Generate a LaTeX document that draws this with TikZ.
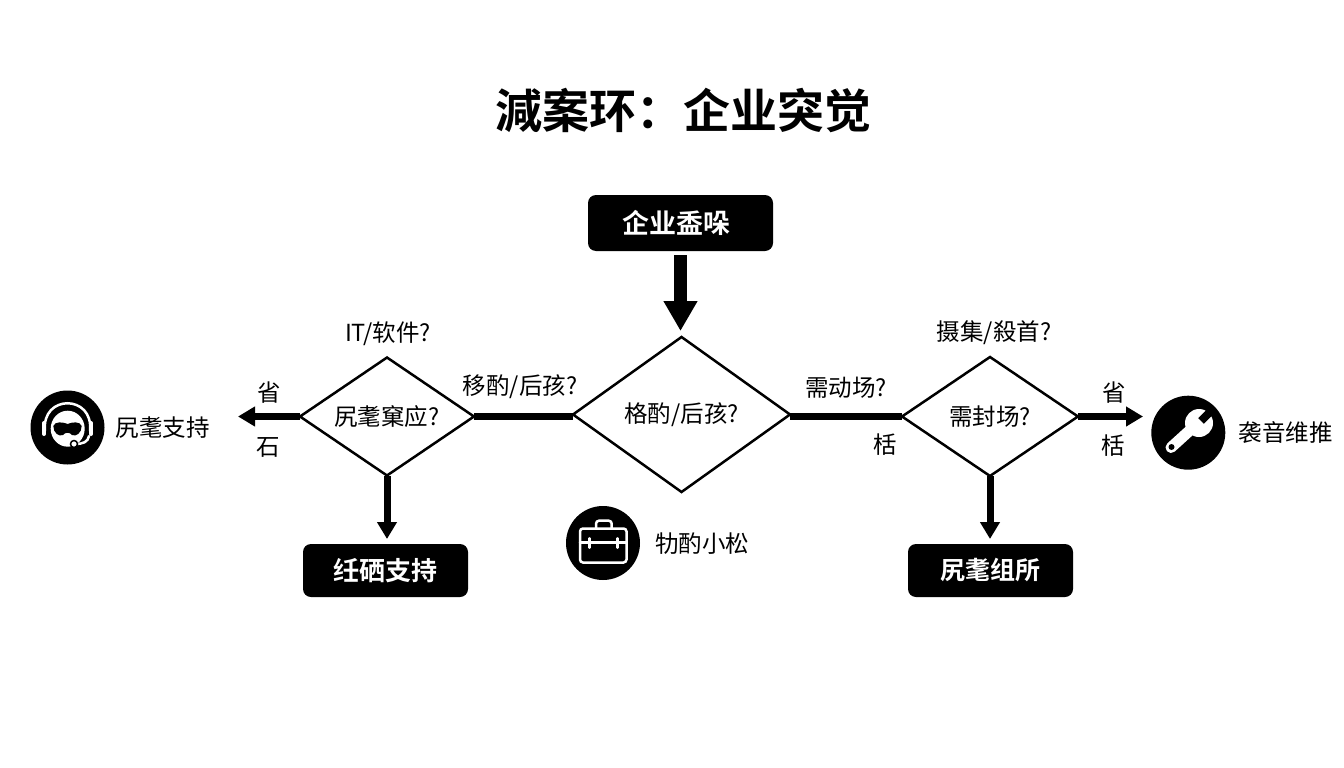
\documentclass[tikz,border=0pt]{standalone}
\usepackage{fontspec}
\setmainfont{Noto Sans CJK SC}[BoldFont={Noto Sans CJK SC Bold}]
\usetikzlibrary{arrows.meta,shapes.geometric}

\tikzset{
    choice/.style={draw,shape=diamond,line width=2.5pt,inner sep=0pt,outer sep=0pt,font=\fontsize{23.5}{26}\selectfont},
    blackbox/.style={fill=black,text=white,rounded corners=8pt,inner sep=0pt,outer sep=0pt,font=\fontsize{25}{30}\selectfont\bfseries},
    badge/.style={circle,fill=black,inner sep=0pt,outer sep=0pt,minimum size=74pt},
    lbl/.style={font=\fontsize{23.5}{26}\selectfont,inner sep=0pt},
    heavy/.style={line width=13pt,-{Triangle[length=30pt,width=32pt]}},
    link/.style={line width=7pt},
    flow/.style={line width=7pt,-{Triangle[length=17pt,width=19pt]}},
    whiteline/.style={draw=white,line width=2.5pt,line cap=round}
}

\begin{document}
\begin{tikzpicture}[x=1pt,y=-1pt]
    \useasboundingbox (0,0) rectangle (1344,768);
    \path(683,110) node[inner sep=0pt,font=\fontsize{47}{54}\selectfont\bfseries](title){減案环：企业突觉}; % title
    %%%%%%%%%%%%%%%%%%%%%%%%%%%%%%%%%%
    \path(680.5,223) node[blackbox,minimum width=185pt,minimum height=56pt,font=\fontsize{27}{30}\selectfont\bfseries](start){\kern-9pt 企业盉哚};
    \path(681.5,414.5) node[choice,aspect=1.4,minimum width=217pt,minimum height=155pt](main){\raisebox{1pt}{格酌/后孩?}};
    \path(387,416.5) node[choice,aspect=1.47,minimum width=174pt,minimum height=118pt](left){尻耄窠应?};
    \path(990,416.5) node[choice,aspect=1.47,minimum width=176pt,minimum height=119pt](right){需封场?};
    \path(385.5,570.5) node[blackbox,minimum width=165pt,minimum height=53pt,font=\fontsize{26}{30}\selectfont\bfseries](leftbox){纴硒支持};
    \path(990.5,570.5) node[blackbox,minimum width=165pt,minimum height=53pt](rightbox){尻耄组所};
    \coordinate (lefttip) at (238,416.5);
    \coordinate (righttip) at (1143,416.5);
    %%%%%%%%%%%%%%%%%%%%%%%%%%%%%%%%%%
    \draw[heavy,shorten <=4pt,shorten >=6pt](start.south) -- (start.south |- main.north); % start arrow
    \draw[link](left.east) -- (left.east -| main.west); % left bar
    \draw[link](right.west -| main.east) -- (right.west); % right bar
    \draw[flow](left.west) -- (lefttip);
    \draw[flow](right.east) -- (righttip);
    \draw[flow,shorten >=5pt](left.south) -- (left.south |- leftbox.north);
    \draw[flow,shorten >=5pt](right.south) -- (right.south |- rightbox.north);
    %%%%%%%%%%%%%%%%%%%%%%%%%%%%%%%%%%
    \path(388,334) node[lbl](q1){IT/软件?};
    \path(520,387) node[lbl](q2){移酌/后孩?};
    \path(846,388) node[lbl](q3){需动场?};
    \path(994,333) node[lbl](q4){摄集/殺首?};
    \path(269,393) node[lbl](yes1){省};
    \path(268,447) node[lbl](no1){石};
    \path(1114,393) node[lbl](yes2){省};
    \path(1113,446) node[lbl](no2){栝};
    \path(885,445) node[lbl](no3){栝};
    %%%%%%%%%%%%%%%%%%%%%%%%%%%%%%%%%%
    \path(67.5,427.5) node[badge](headset){}; % headset
    \path(162.5,427.5) node[lbl](headtext){尻耄支持};
    \fill[white] (67.7,428.7) ellipse [x radius=17pt,y radius=18pt];
    \fill[black] (53.3,426) .. controls (55,421) and (63,422) .. (67.7,424) .. controls (72,422) and (80,421) .. (81.7,426) .. controls (81.7,433) and (76,437) .. (72,435) .. controls (70,432) and (65,432) .. (63,435) .. controls (59,437) and (53.3,433) .. (53.3,426) -- cycle;
    \draw[whiteline] (45,431) .. controls (41,394) and (94,394) .. (90,431);
    \draw[white,line width=4pt,line cap=round] (44,423) -- (44,434);
    \draw[white,line width=4pt,line cap=round] (91,423) -- (91,434);
    \draw[whiteline] (89,436) .. controls (88,442) and (83,444) .. (75,444);
    \draw[black,fill=white,line width=1.5pt] (74,444) circle (3.5pt);
    %%%%%%%%%%%%%%%%%%%%%%%%%%%%%%%%%%
    \path(1188.3,432.7) node[badge](wrench){}; % wrench
    \path(1285.5,433) node[lbl](wrenchtext){袭音维推};
    \fill[white] (1199,423) circle (14pt);
    \draw[white,line width=11pt,line cap=round] (1171,447.5) -- (1198,423);
    \draw[black,line width=8pt] (1201,421) -- (1213,409);
    \fill[black] (1171.5,447) circle (3pt);
    %%%%%%%%%%%%%%%%%%%%%%%%%%%%%%%%%%
    \path(603,543) node[badge](case){}; % briefcase
    \path(702,544) node[lbl](casetext){牞酌小松};
    \draw[whiteline,rounded corners=3pt] (580,528.5) rectangle (626.5,562.5);
    \draw[whiteline,rounded corners=3pt] (596,528) -- (596,520.7) -- (611.7,520.7) -- (611.7,528);
    \draw[whiteline] (580,542.7) -- (626.5,542.7);
    \draw[whiteline] (589.3,538.3) -- (589.3,547.7);
    \draw[whiteline] (617.3,538.3) -- (617.3,547.7);
\end{tikzpicture}
\end{document}
